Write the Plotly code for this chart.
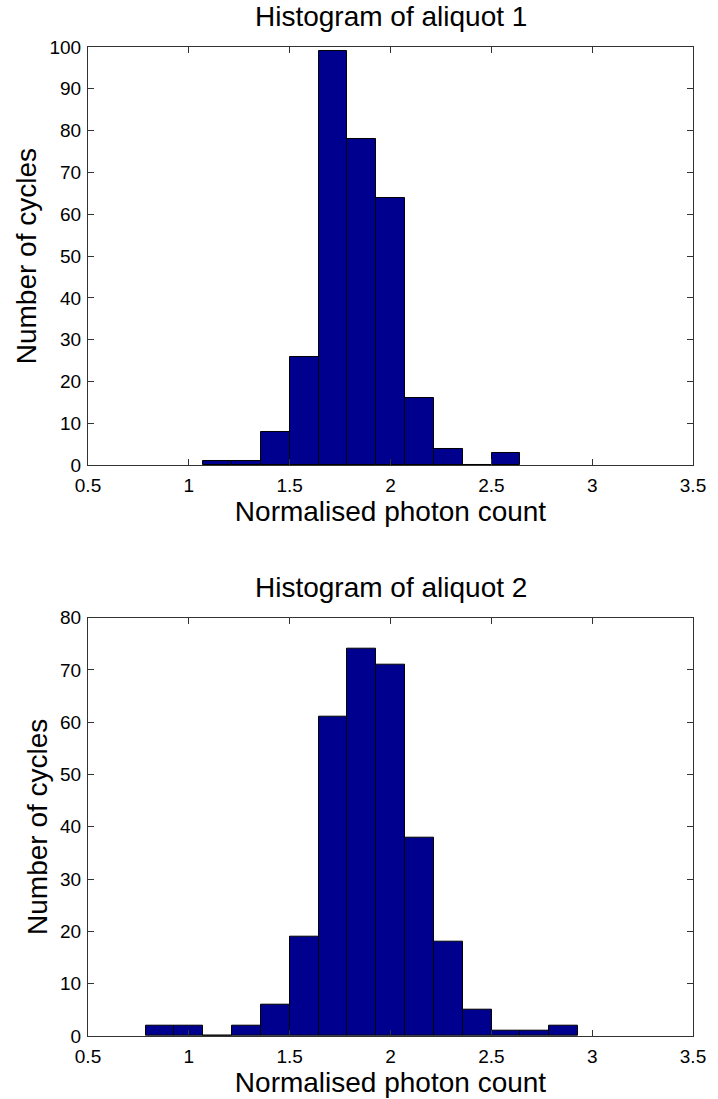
import plotly.graph_objects as go

# ---- data ----
bin_width = 0.143
centers_1 = [1.143, 1.286, 1.429, 1.572, 1.715, 1.858, 2.001, 2.144, 2.287, 2.430, 2.573]
counts_1 = [1, 1, 8, 26, 99, 78, 64, 16, 4, 0, 3]

centers_2 = [0.857, 1.000, 1.143, 1.286, 1.429, 1.572, 1.715, 1.858, 2.001, 2.144,
             2.287, 2.430, 2.573, 2.716, 2.859]
counts_2 = [2, 2, 0, 2, 6, 19, 61, 74, 71, 38, 18, 5, 1, 1, 2]

titles = ["Histogram of aliquot 1", "Histogram of aliquot 2"]
x_label = "Normalised photon count"
y_label = "Number of cycles"
x_ticks = [0.5, 1, 1.5, 2, 2.5, 3, 3.5]
x_tick_text = ["0.5", "1", "1.5", "2", "2.5", "3", "3.5"]
y_ticks_1 = list(range(0, 101, 10))
y_ticks_2 = list(range(0, 81, 10))

BAR = "#00008F"
AX = "#333333"
FONT = "Liberation Sans, Arial, sans-serif"

fig = go.Figure()
fig.add_trace(go.Bar(x=centers_1, y=counts_1, width=bin_width, marker=dict(color=BAR, line=dict(color="black", width=1)),
                     xaxis="x", yaxis="y", showlegend=False))
fig.add_trace(go.Bar(x=centers_2, y=counts_2, width=bin_width, marker=dict(color=BAR, line=dict(color="black", width=1)),
                     xaxis="x2", yaxis="y2", showlegend=False))

W, H = 718, 1099
ml, mr, mt, mb = 88, 14, 46, 59
ph = H - mt - mb
top1, bot1 = 47, 467
top2, bot2 = 620, 1040
def frac(px):
    return (H - mb - px) / ph

common_x = dict(range=[0.5, 3.5], tickvals=x_ticks, ticktext=x_tick_text, ticks="inside", ticklen=6,
                tickcolor=AX, linecolor=AX, linewidth=1, mirror="ticks", showgrid=False, zeroline=False,
                ticklabelstandoff=3,
                tickfont=dict(family=FONT, size=19, color="black"),
                title=dict(text=x_label, font=dict(family=FONT, size=28, color="black"), standoff=1))
common_y = dict(ticks="inside", ticklen=6, tickcolor=AX, linecolor=AX, linewidth=1, mirror="ticks",
                showgrid=False, zeroline=False, tickfont=dict(family=FONT, size=19, color="black"),
                ticklabelstandoff=2,
                title=dict(text=y_label, font=dict(family=FONT, size=28, color="black"), standoff=4))

fig.update_layout(
    width=W, height=H, margin=dict(l=ml, r=mr, t=mt, b=mb),
    paper_bgcolor="white", plot_bgcolor="white", bargap=0,
    xaxis=dict(domain=[0, 1], anchor="y", **common_x),
    yaxis=dict(domain=[frac(bot1), frac(top1)], anchor="x", range=[0, 100], tickvals=y_ticks_1, **common_y),
    xaxis2=dict(domain=[0, 1], anchor="y2", **common_x),
    yaxis2=dict(domain=[frac(bot2), frac(top2)], anchor="x2", range=[0, 80], tickvals=y_ticks_2, **common_y),
)
for t, top in zip(titles, [top1, top2]):
    fig.add_annotation(text=t, xref="paper", yref="paper", x=0.5, y=frac(top), xanchor="center", yanchor="middle",
                       yshift=30, showarrow=False, font=dict(family=FONT, size=28, color="black"))

fig.write_html("out.html")
